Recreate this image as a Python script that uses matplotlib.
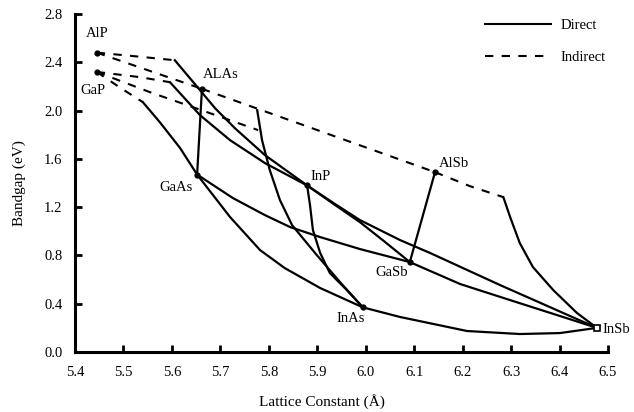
import matplotlib
matplotlib.use('Agg')
import matplotlib.pyplot as plt
from matplotlib.lines import Line2D

plt.rcParams['font.family'] = ['Liberation Serif', 'DejaVu Serif']

# binary compounds (lattice constant in A, bandgap in eV)
compounds = ["AlP", "GaP", "ALAs", "GaAs", "InP", "AlSb", "GaSb", "InAs", "InSb"]
lattice = [5.445, 5.445, 5.662, 5.652, 5.879, 6.143, 6.091, 5.994, 6.477]
bandgap = [2.48, 2.32, 2.18, 1.47, 1.38, 1.49, 0.745, 0.37, 0.20]

# label positions for the compounds
label_x = [5.445, 5.437, 5.664, 5.609, 5.885, 6.150, 6.054, 5.968, 6.488]
label_y = [2.64, 2.17, 2.30, 1.366, 1.45, 1.565, 0.662, 0.281, 0.19]
label_ha = ["center", "center", "left", "center", "left", "left", "center", "center", "left"]

# indirect gap branches (dashed)
alp_inp_ind_a = [5.445, 5.524, 5.606]
alp_inp_ind_e = [2.48, 2.45, 2.417]
gap_inp_ind_a = [5.445, 5.534, 5.596]
gap_inp_ind_e = [2.32, 2.277, 2.235]
alp_alas_ind_a = [5.445, 5.662]
alp_alas_ind_e = [2.48, 2.18]
gap_gaas_ind_a = [5.445, 5.493, 5.540]
gap_gaas_ind_e = [2.32, 2.19, 2.07]
gap_inas_ind_a = [5.445, 5.555, 5.679, 5.778]
gap_inas_ind_e = [2.32, 2.152, 1.978, 1.838]
alas_alsb_ind_a = [5.662, 6.143]
alas_alsb_ind_e = [2.18, 1.49]
alsb_insb_ind_a = [6.143, 6.215, 6.284]
alsb_insb_ind_e = [1.49, 1.374, 1.283]

# direct gap branches (solid)
alp_inp_dir_a = [5.606, 5.658, 5.689, 5.730, 5.792, 5.879]
alp_inp_dir_e = [2.417, 2.169, 2.020, 1.854, 1.631, 1.38]
gap_inp_dir_a = [5.596, 5.658, 5.720, 5.792, 5.879]
gap_inp_dir_e = [2.235, 1.962, 1.755, 1.565, 1.38]
gap_gaas_dir_a = [5.540, 5.575, 5.617, 5.652]
gap_gaas_dir_e = [2.07, 1.904, 1.689, 1.47]
alas_gaas_dir_a = [5.652, 5.662]
alas_gaas_dir_e = [1.47, 2.18]
gaas_inas_dir_a = [5.652, 5.720, 5.782, 5.833, 5.906, 5.994]
gaas_inas_dir_e = [1.47, 1.118, 0.844, 0.695, 0.530, 0.37]
inas_insb_dir_a = [5.994, 6.071, 6.209, 6.318, 6.401, 6.477]
inas_insb_dir_e = [0.37, 0.290, 0.174, 0.149, 0.157, 0.20]
alas_inas_dir_a = [5.776, 5.786, 5.802, 5.823, 5.848, 5.899, 5.947, 5.994]
alas_inas_dir_e = [2.003, 1.755, 1.507, 1.258, 1.051, 0.803, 0.579, 0.37]
inp_inas_dir_a = [5.879, 5.885, 5.891, 5.906, 5.926, 5.961, 5.994]
inp_inas_dir_e = [1.38, 1.217, 1.010, 0.820, 0.654, 0.513, 0.37]
inp_gasb_dir_a = [5.879, 5.937, 5.988, 6.040, 6.091]
inp_gasb_dir_e = [1.38, 1.217, 1.076, 0.911, 0.745]
inp_insb_dir_a = [5.879, 5.937, 5.988, 6.071, 6.133, 6.277, 6.477]
inp_insb_dir_e = [1.38, 1.225, 1.093, 0.927, 0.820, 0.555, 0.20]
gaas_gasb_dir_a = [5.652, 5.726, 5.792, 5.844, 5.906, 5.988, 6.091]
gaas_gasb_dir_e = [1.47, 1.275, 1.134, 1.035, 0.952, 0.853, 0.745]
gasb_insb_dir_a = [6.091, 6.195, 6.298, 6.401, 6.477]
gasb_insb_dir_e = [0.745, 0.563, 0.430, 0.298, 0.20]
alsb_gasb_dir_a = [6.091, 6.143]
alsb_gasb_dir_e = [0.745, 1.49]
alsb_insb_dir_a = [6.284, 6.298, 6.318, 6.345, 6.387, 6.436, 6.477]
alsb_insb_dir_e = [1.283, 1.118, 0.902, 0.704, 0.513, 0.323, 0.20]

indirect = [
    (alp_inp_ind_a, alp_inp_ind_e), (gap_inp_ind_a, gap_inp_ind_e),
    (alp_alas_ind_a, alp_alas_ind_e), (gap_gaas_ind_a, gap_gaas_ind_e),
    (gap_inas_ind_a, gap_inas_ind_e), (alas_alsb_ind_a, alas_alsb_ind_e),
    (alsb_insb_ind_a, alsb_insb_ind_e),
]
direct = [
    (alp_inp_dir_a, alp_inp_dir_e), (gap_inp_dir_a, gap_inp_dir_e),
    (gap_gaas_dir_a, gap_gaas_dir_e), (alas_gaas_dir_a, alas_gaas_dir_e),
    (gaas_inas_dir_a, gaas_inas_dir_e), (inas_insb_dir_a, inas_insb_dir_e),
    (alas_inas_dir_a, alas_inas_dir_e), (inp_inas_dir_a, inp_inas_dir_e),
    (inp_gasb_dir_a, inp_gasb_dir_e), (inp_insb_dir_a, inp_insb_dir_e),
    (gaas_gasb_dir_a, gaas_gasb_dir_e), (gasb_insb_dir_a, gasb_insb_dir_e),
    (alsb_gasb_dir_a, alsb_gasb_dir_e), (alsb_insb_dir_a, alsb_insb_dir_e),
]

xticks = [5.4, 5.5, 5.6, 5.7, 5.8, 5.9, 6.0, 6.1, 6.2, 6.3, 6.4, 6.5]
yticks = [0.0, 0.4, 0.8, 1.2, 1.6, 2.0, 2.4, 2.8]

fig = plt.figure(figsize=(6.34, 4.12), dpi=100)
ax = fig.add_axes([0.1183, 0.1456, 0.8407, 0.8204])

for a, e in indirect:
    ax.plot(a, e, color='black', lw=1.5, linestyle=(0, (4, 4)), solid_capstyle='butt')
for a, e in direct:
    ax.plot(a, e, color='black', lw=1.6)

ax.plot(lattice[:-1], bandgap[:-1], 'o', color='black', ms=3.5, ls='none')
ax.plot(lattice[-1:], bandgap[-1:], 's', mfc='white', mec='black', mew=1.2, ms=4, ls='none')

for name, x, y, ha in zip(compounds, label_x, label_y, label_ha):
    ax.text(x, y, name, fontsize=10.5, ha=ha, va='center')

ax.set_xlim(5.4, 6.5)
ax.set_ylim(0.0, 2.8)
ax.set_xticks(xticks)
ax.set_yticks(yticks)
ax.set_xticklabels([f"{t:.1f}" for t in xticks])
ax.set_yticklabels([f"{t:.1f}" for t in yticks])
ax.tick_params(direction='in', length=5, width=2, labelsize=10.5)
ax.tick_params(axis='x', pad=10)
ax.tick_params(axis='y', pad=9)
for s in ['top', 'right']:
    ax.spines[s].set_visible(False)
for s in ['left', 'bottom']:
    ax.spines[s].set_linewidth(2.2)

ax.set_xlabel('Lattice Constant (Å)', fontsize=11)
ax.set_ylabel('Bandgap (eV)', fontsize=11)
ax.xaxis.set_label_coords(0.463, -0.124)
ax.yaxis.set_label_coords(-0.092, 0.5)

handles = [Line2D([], [], color='black', lw=1.5),
           Line2D([], [], color='black', lw=1.5, linestyle=(0, (4, 4)))]
ax.legend(handles, ['Direct', 'Indirect'], loc='upper left',
          bbox_to_anchor=(0.765, 0.954), bbox_transform=fig.transFigure,
          frameon=False, fontsize=10.5, handlelength=4.5, handletextpad=0.7,
          labelspacing=1.3, borderpad=0, borderaxespad=0)

plt.savefig('out.png', dpi=100)
